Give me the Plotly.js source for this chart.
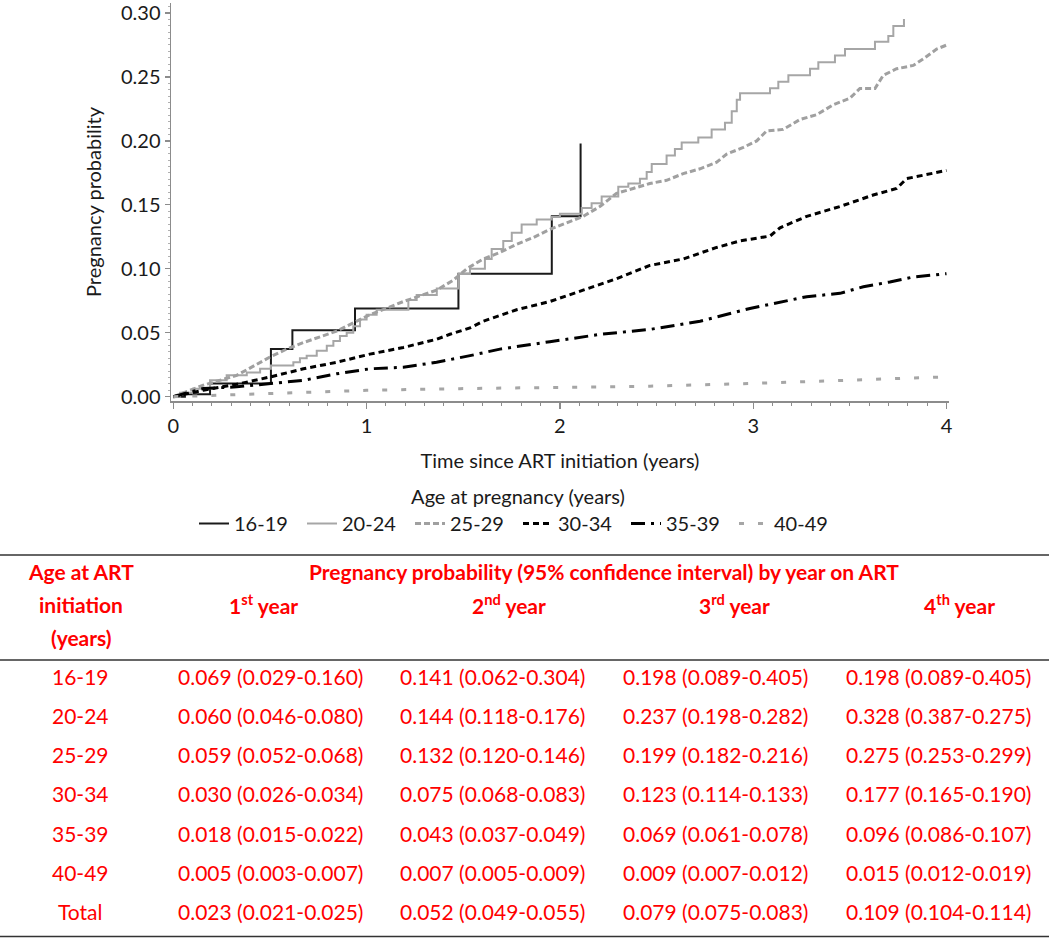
<!DOCTYPE html>
<html>
<head>
<meta charset="utf-8">
<script src="https://cdn.plot.ly/plotly-3.0.1.min.js"></script>
<style>
html,body{margin:0;padding:0;background:#fff;}
#chart{width:1050px;height:938px;}
</style>
</head>
<body>
<div id="chart"></div>
<script>
// ---------------- DATA ----------------
const seriesNames = ["16-19", "20-24", "25-29", "30-34", "35-39", "40-49"];

const t16_19 = [0, 0.06, 0.19, 0.505, 0.616, 0.94, 1.475, 1.958, 2.107];
const p16_19 = [0, 0.002, 0.0103, 0.0372, 0.052, 0.069, 0.0962, 0.141, 0.198];

const t20_24 = [0, 0.035, 0.103, 0.19, 0.276, 0.38, 0.449, 0.505, 0.621, 0.655, 0.69, 0.742, 0.794, 0.828, 0.862, 0.897, 0.931, 0.966, 1.0, 1.052, 1.216, 1.259, 1.363, 1.475, 1.535, 1.612, 1.647, 1.707, 1.751, 1.802, 1.88, 1.958, 2.0, 2.113, 2.164, 2.216, 2.302, 2.354, 2.414, 2.449, 2.475, 2.552, 2.595, 2.63, 2.716, 2.785, 2.854, 2.889, 2.915, 2.932, 3.087, 3.13, 3.182, 3.294, 3.337, 3.423, 3.475, 3.63, 3.699, 3.725, 3.78];
const p20_24 = [0, 0.003, 0.0063, 0.0128, 0.0167, 0.019, 0.0218, 0.0244, 0.027, 0.030, 0.032, 0.036, 0.0398, 0.0436, 0.0475, 0.050, 0.055, 0.0603, 0.064, 0.068, 0.0757, 0.0795, 0.0846, 0.096, 0.100, 0.1077, 0.1154, 0.1218, 0.1282, 0.1346, 0.1385, 0.1405, 0.143, 0.1475, 0.1513, 0.1565, 0.1641, 0.1667, 0.1705, 0.1757, 0.182, 0.1885, 0.1936, 0.1988, 0.2026, 0.209, 0.2141, 0.2231, 0.2321, 0.2372, 0.2411, 0.2462, 0.2513, 0.2564, 0.2615, 0.2667, 0.2718, 0.2776, 0.2821, 0.2898, 0.2954];

const t25_29 = [0, 0.155, 0.328, 0.5, 0.586, 0.673, 0.845, 0.931, 1.017, 1.104, 1.19, 1.362, 1.448, 1.517, 1.603, 1.69, 1.776, 1.862, 1.948, 2.034, 2.12, 2.207, 2.293, 2.379, 2.465, 2.552, 2.638, 2.725, 2.811, 2.863, 2.949, 3.018, 3.069, 3.155, 3.242, 3.328, 3.414, 3.5, 3.552, 3.63, 3.673, 3.742, 3.828, 3.88, 3.949, 4.0];
const p25_29 = [0, 0.009, 0.0167, 0.031, 0.0372, 0.0423, 0.0513, 0.0577, 0.0641, 0.0692, 0.0744, 0.0833, 0.091, 0.0999, 0.1077, 0.1128, 0.1192, 0.1244, 0.1308, 0.1359, 0.141, 0.1487, 0.159, 0.1628, 0.1667, 0.1692, 0.1744, 0.1782, 0.1833, 0.1897, 0.1949, 0.2, 0.2077, 0.209, 0.2167, 0.2205, 0.2282, 0.2333, 0.241, 0.241, 0.2513, 0.2564, 0.259, 0.2641, 0.2718, 0.2749];

const t30_34 = [0, 0.155, 0.328, 0.5, 0.673, 0.845, 1.017, 1.19, 1.362, 1.431, 1.535, 1.603, 1.776, 1.948, 2.12, 2.293, 2.465, 2.638, 2.811, 2.932, 3.087, 3.139, 3.277, 3.449, 3.621, 3.742, 3.794, 3.88, 4.0];
const p30_34 = [0, 0.0051, 0.0097, 0.0154, 0.0218, 0.0269, 0.0333, 0.0385, 0.0449, 0.0488, 0.0538, 0.059, 0.068, 0.0744, 0.0833, 0.0923, 0.1026, 0.1077, 0.1167, 0.1218, 0.1256, 0.1321, 0.141, 0.1487, 0.1577, 0.1628, 0.1705, 0.1731, 0.1769];

const t35_39 = [0, 0.029, 0.155, 0.328, 0.5, 0.673, 0.845, 1.017, 1.19, 1.362, 1.535, 1.69, 1.948, 2.207, 2.465, 2.725, 2.983, 3.277, 3.449, 3.57, 3.707, 3.828, 4.0];
const p35_39 = [0, 0.0013, 0.0064, 0.0077, 0.0103, 0.0128, 0.0179, 0.0218, 0.0231, 0.0269, 0.0321, 0.0372, 0.043, 0.0487, 0.0526, 0.059, 0.069, 0.0782, 0.0808, 0.086, 0.0897, 0.0936, 0.0962];

const t40_49 = [0, 0.276, 0.621, 1.0, 1.483, 1.931, 2.466, 2.983, 3.5, 3.966, 4.0];
const p40_49 = [0, 0.0013, 0.003, 0.005, 0.0063, 0.0072, 0.0082, 0.0103, 0.0128, 0.0154, 0.0155];

const xTickVals = [0, 1, 2, 3, 4];
const yTickVals = [0, 0.05, 0.10, 0.15, 0.20, 0.25, 0.30];
const yTickText = ["0.00", "0.05", "0.10", "0.15", "0.20", "0.25", "0.30"];

// Table
const tableAgeGroups = ["16-19", "20-24", "25-29", "30-34", "35-39", "40-49", "Total"];
const tableYear1 = ["0.069 (0.029-0.160)", "0.060 (0.046-0.080)", "0.059 (0.052-0.068)", "0.030 (0.026-0.034)", "0.018 (0.015-0.022)", "0.005 (0.003-0.007)", "0.023 (0.021-0.025)"];
const tableYear2 = ["0.141 (0.062-0.304)", "0.144 (0.118-0.176)", "0.132 (0.120-0.146)", "0.075 (0.068-0.083)", "0.043 (0.037-0.049)", "0.007 (0.005-0.009)", "0.052 (0.049-0.055)"];
const tableYear3 = ["0.198 (0.089-0.405)", "0.237 (0.198-0.282)", "0.199 (0.182-0.216)", "0.123 (0.114-0.133)", "0.069 (0.061-0.078)", "0.009 (0.007-0.012)", "0.079 (0.075-0.083)"];
const tableYear4 = ["0.198 (0.089-0.405)", "0.328 (0.387-0.275)", "0.275 (0.253-0.299)", "0.177 (0.165-0.190)", "0.096 (0.086-0.107)", "0.015 (0.012-0.019)", "0.109 (0.104-0.114)"];
const tableHeaderFirst = ["Age at ART", "initiation", "(years)"];
const tableHeaderSpan = "Pregnancy probability (95% confidence interval) by year on ART";
const tableYearHeaders = ["1<sup>st</sup> year", "2<sup>nd</sup> year", "3<sup>rd</sup> year", "4<sup>th</sup> year"];

// ---------------- LAYOUT HELPERS ----------------
const W = 1050, H = 938;
const PL = 171, PR = 949, PT = 3, PB = 401;
function xp(px) { return (px - PL) / (PR - PL); }
function yp(py) { return (PB - py) / (PB - PT); }

const FONT = "Lato, 'Open Sans', sans-serif";
const RED = "#ff0000";

const traceStyles = [
  {color: "#1a1a1a", width: 2, dash: "solid", shape: "hv"},
  {color: "#a6a6a6", width: 2, dash: "solid", shape: "hv"},
  {color: "#a0a0a0", width: 3, dash: "6px,3px", shape: "linear"},
  {color: "#000000", width: 3, dash: "6px,4px", shape: "linear"},
  {color: "#000000", width: 3, dash: "14px,6px,3px,6px", shape: "linear"},
  {color: "#a6a6a6", width: 3, dash: "5px,14px", shape: "linear"}
];
const xs = [t16_19, t20_24, t25_29, t30_34, t35_39, t40_49];
const ys = [p16_19, p20_24, p25_29, p30_34, p35_39, p40_49];

const traces = seriesNames.map((name, i) => ({
  type: "scatter",
  mode: "lines",
  name: name,
  x: xs[i],
  y: ys[i],
  line: {color: traceStyles[i].color, width: traceStyles[i].width, dash: traceStyles[i].dash, shape: traceStyles[i].shape},
  hoverinfo: "x+y+name"
}));

// Table annotations & shapes
const annotations = [];
const shapes = [];
function addText(text, px, py, bold, size) {
  annotations.push({
    text: bold ? "<b>" + text + "</b>" : text,
    xref: "paper", yref: "paper",
    x: xp(px), y: yp(py),
    xanchor: "center", yanchor: "middle",
    showarrow: false,
    font: {family: FONT, size: size || 21, color: RED}
  });
}
function addLine(py) {
  shapes.push({type: "line", xref: "paper", yref: "paper",
    x0: xp(0), x1: xp(1049), y0: yp(py), y1: yp(py),
    line: {color: "#333333", width: 1.5}});
}
addLine(555);
addLine(660);
addLine(936.5);

const headerRowsY = [571.5, 604, 637];
tableHeaderFirst.forEach((t, i) => addText(t, 81, headerRowsY[i], true));
addText(tableHeaderSpan, 603.5, 571.5, true);
const headerColX = [263, 509, 734, 959];
tableYearHeaders.forEach((t, i) => addText(t, headerColX[i], 604, true));

const rowY = [676.7, 715.5, 754.5, 793.5, 833, 872.3, 911.7];
const dataColX = [270, 492, 715, 938];
const cols = [tableYear1, tableYear2, tableYear3, tableYear4];
tableAgeGroups.forEach((g, r) => {
  addText(g, 80, rowY[r], false);
  cols.forEach((c, ci) => addText(c[r], dataColX[ci], rowY[r], false));
});

const axisGray = "#8c8c8c";
const layout = {
  width: W, height: H,
  margin: {l: PL, r: W - PR, t: PT, b: H - PB, pad: 0},
  paper_bgcolor: "#ffffff",
  plot_bgcolor: "#ffffff",
  font: {family: FONT, size: 20, color: "#1a1a1a"},
  showlegend: true,
  xaxis: {
    range: [-0.012, 4.013],
    tickvals: xTickVals,
    ticktext: xTickVals.map(String),
    showgrid: false, zeroline: false,
    showline: true, linecolor: axisGray, linewidth: 1.5,
    ticks: "outside", ticklen: 6, tickwidth: 1.2, tickcolor: axisGray,
    minor: {dtick: 0.1, tick0: 0, ticks: "outside", ticklen: 3, tickwidth: 1, tickcolor: axisGray, showgrid: false},
    tickfont: {family: FONT, size: 20, color: "#1a1a1a"},
    ticklabeloverflow: "allow",
    title: {text: "Time since ART initiation (years)", font: {family: FONT, size: 20, color: "#1a1a1a"}, standoff: 18},
    automargin: false
  },
  yaxis: {
    range: [-0.00336, 0.30782],
    tickvals: yTickVals,
    ticktext: yTickText,
    showgrid: false, zeroline: false,
    showline: true, linecolor: axisGray, linewidth: 1.5,
    ticks: "outside", ticklen: 5, tickwidth: 1.2, tickcolor: axisGray,
    minor: {dtick: 0.005, tick0: 0, ticks: "outside", ticklen: 2, tickwidth: 1, tickcolor: "#b0b0b0", showgrid: false},
    tickfont: {family: FONT, size: 20, color: "#1a1a1a"},
    ticklabeloverflow: "allow",
    title: {text: "Pregnancy probability", font: {family: FONT, size: 20, color: "#1a1a1a"}, standoff: 14},
    automargin: false
  },
  legend: {
    orientation: "h",
    x: xp(518), xanchor: "center",
    y: yp(478), yanchor: "top",
    title: {text: "Age at pregnancy (years)", side: "top center", font: {family: FONT, size: 20, color: "#1a1a1a"}},
    font: {family: FONT, size: 20, color: "#1a1a1a"},
    entrywidth: 63, entrywidthmode: "pixels",
    bgcolor: "rgba(0,0,0,0)",
    traceorder: "normal"
  },
  annotations: annotations,
  shapes: shapes
};

Plotly.newPlot("chart", traces, layout, {displayModeBar: false, staticPlot: true});
</script>
</body>
</html>
